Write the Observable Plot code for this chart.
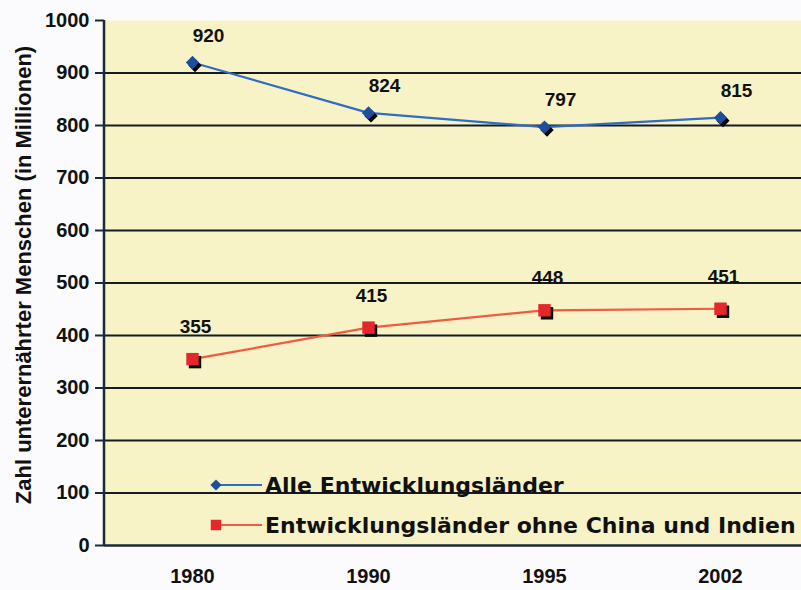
<!DOCTYPE html>
<html>
<head>
<meta charset="utf-8">
<script src="https://cdn.jsdelivr.net/npm/d3@7"></script>
<script src="https://cdn.jsdelivr.net/npm/@observablehq/plot@0.6"></script>
<style>
  html, body { margin: 0; padding: 0; background: #fbfbfd; overflow: hidden; }
  #chart svg { display: block; }
</style>
</head>
<body>
<div id="chart"></div>
<script>
const years = ["1980", "1990", "1995", "2002"];
const allValues = [920, 824, 797, 815];
const exclValues = [355, 415, 448, 451];
const seriesNames = ["Alle Entwicklungsländer", "Entwicklungsländer ohne China und Indien"];
const yTicks = [0, 100, 200, 300, 400, 500, 600, 700, 800, 900, 1000];
const yTitle = "Zahl unterernährter Menschen (in Millionen)";

const allData = years.map((y, i) => ({year: y, value: allValues[i]}));
const exclData = years.map((y, i) => ({year: y, value: exclValues[i]}));

const BLUE_LINE = "#2f6cc4", BLUE_DOT = "#1f4e9e";
const RED_LINE = "#f25a3f", RED_DOT = "#e5262a";
const FONT = "'Liberation Sans', Arial, sans-serif";

const chart = Plot.plot({
  width: 801,
  height: 590,
  marginLeft: 104,
  marginRight: 0,
  marginTop: 20,
  marginBottom: 45,
  style: {background: "transparent", fontFamily: FONT},
  x: {type: "point", domain: years, padding: 0.5, range: [104, 808]},
  y: {domain: [0, 1000], range: [545, 20]},
  marks: [
    Plot.frame({fill: "#f7f3c6", stroke: null}),
    Plot.ruleY(yTicks.filter(d => d > 0 && d < 1000), {stroke: "#151b22", strokeWidth: 2}),
    Plot.ruleY([0], {stroke: "#1b2a38", strokeWidth: 2.5}),
    Plot.axisY({ticks: yTicks, tickFormat: d3.format("d"), tickSize: 9, tickPadding: 6, fontSize: 20, fontWeight: "bold", label: null, stroke: "#1b2a38", strokeWidth: 2, fill: "#111"}),
    Plot.axisX({tickSize: 0, tickPadding: 23, fontSize: 20, fontWeight: "bold", label: null, fill: "#111"}),
    Plot.line(allData, {x: "year", y: "value", stroke: BLUE_LINE, strokeWidth: 2.2}),
    Plot.line(exclData, {x: "year", y: "value", stroke: RED_LINE, strokeWidth: 2.2}),
    Plot.dot(allData, {x: "year", y: "value", symbol: "diamond2", r: 6, fill: "#000", dx: 2.5, dy: 3}),
    Plot.dot(allData, {x: "year", y: "value", symbol: "diamond2", r: 6, fill: BLUE_DOT}),
    Plot.dot(exclData, {x: "year", y: "value", symbol: "square", r: 7, fill: "#000", dx: 2.5, dy: 3}),
    Plot.dot(exclData, {x: "year", y: "value", symbol: "square", r: 7, fill: RED_DOT}),
    Plot.text(allData, {x: "year", y: "value", text: d => String(d.value), dx: 16, dy: -27, fontSize: 19, fontWeight: "bold", fill: "#111"}),
    Plot.text(exclData, {x: "year", y: "value", text: d => String(d.value), dx: 3, dy: -32, fontSize: 19, fontWeight: "bold", fill: "#111"})
  ]
});

const svg = d3.select(chart);
// left axis line
svg.append("line").attr("x1", 104).attr("x2", 104).attr("y1", 20).attr("y2", 546)
  .attr("stroke", "#1b2a38").attr("stroke-width", 2.5);

// y-axis title
svg.append("text")
  .attr("transform", "translate(31,275) rotate(-90)")
  .attr("text-anchor", "middle")
  .attr("font-family", FONT).attr("font-weight", "bold").attr("font-size", 22)
  .attr("fill", "#111")
  .text(yTitle);

// legend
const legend = [
  {name: seriesNames[0], line: BLUE_LINE, dot: BLUE_DOT, sym: d3.symbolDiamond2, size: 80, y: 485},
  {name: seriesNames[1], line: RED_LINE, dot: RED_DOT, sym: d3.symbolSquare, size: 110, y: 525}
];
legend.forEach(l => {
  const g = svg.append("g");
  g.append("line").attr("x1", 216).attr("x2", 262).attr("y1", l.y).attr("y2", l.y)
    .attr("stroke", l.line).attr("stroke-width", 2.2);
  g.append("path").attr("d", d3.symbol(l.sym, l.size)()).attr("transform", `translate(216,${l.y})`)
    .attr("fill", l.dot);
  g.append("text").attr("x", 265).attr("y", l.y + 8)
    .attr("text-anchor", "start")
    .attr("font-family", "'DejaVu Sans', Verdana, sans-serif").attr("font-weight", "bold")
    .attr("font-size", 22).attr("fill", "#111")
    .text(l.name);
});

document.getElementById("chart").appendChild(chart);
</script>
</body>
</html>
